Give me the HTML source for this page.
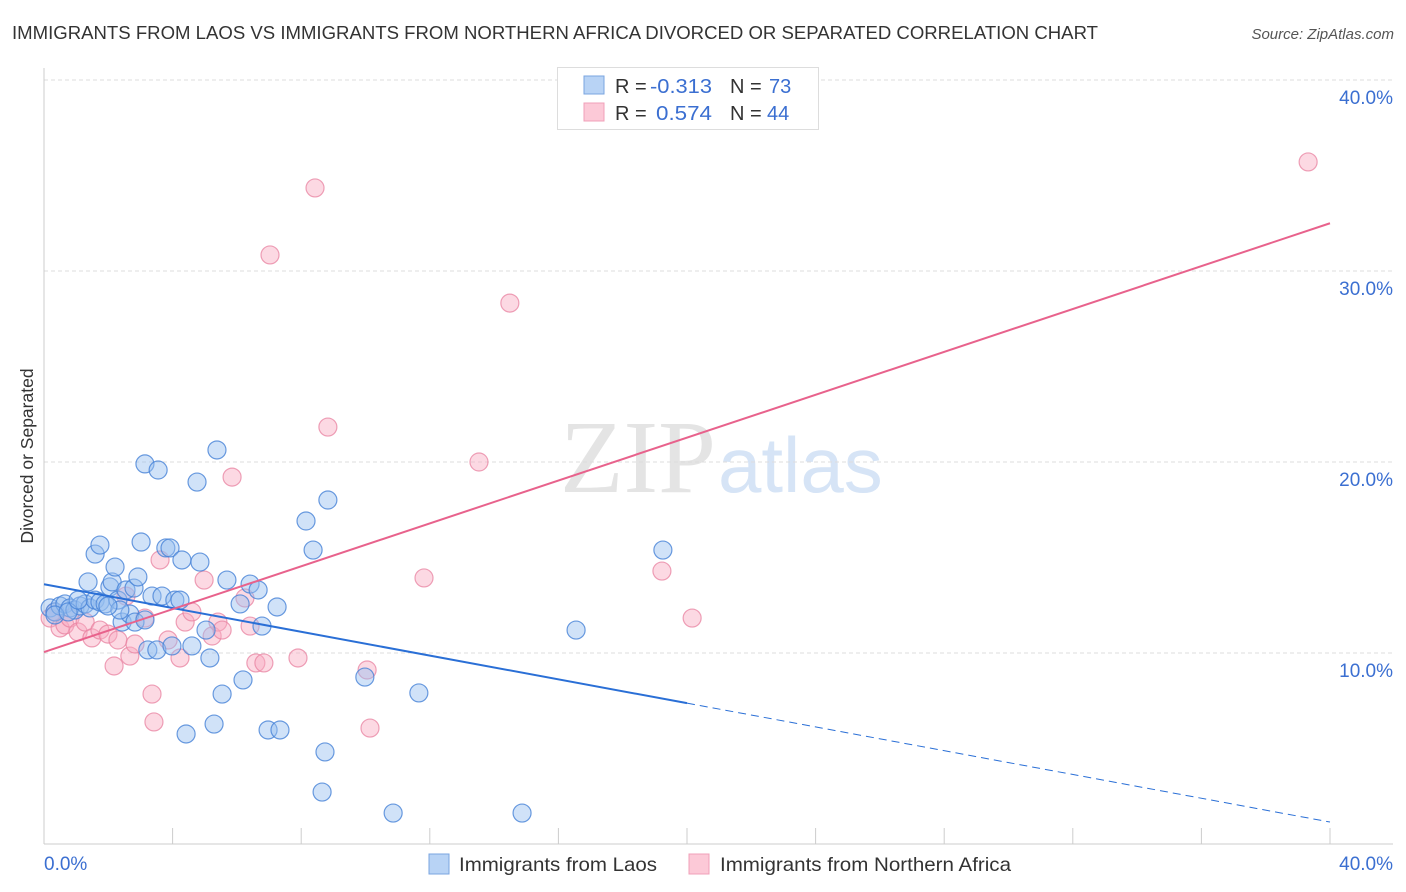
<!DOCTYPE html>
<html><head><meta charset="utf-8"><style>
body{margin:0;background:#fff;font-family:"Liberation Sans",sans-serif;}
#wrap{position:relative;width:1406px;height:892px;overflow:hidden;}
</style></head><body>
<div id="wrap">
<svg id="svg" width="1406" height="892" xmlns="http://www.w3.org/2000/svg">
<text x="12" y="39" font-size="18" fill="#333" textLength="1086" lengthAdjust="spacingAndGlyphs">IMMIGRANTS FROM LAOS VS IMMIGRANTS FROM NORTHERN AFRICA DIVORCED OR SEPARATED CORRELATION CHART</text>
<text x="1394" y="39" font-size="15" fill="#555" font-style="italic" text-anchor="end">Source: ZipAtlas.com</text>
<text x="0" y="0" transform="translate(33,456) rotate(-90)" font-size="17.5" fill="#333" text-anchor="middle">Divorced or Separated</text>
<text x="716" y="492" font-size="104" fill="#e4e4e4" font-family="Liberation Serif,serif" text-anchor="end">ZIP</text>
<text x="718" y="492" font-size="78" fill="#d6e4f6" text-anchor="start">atlas</text>
<g id="grid"></g><g id="axes"></g><g id="pts"></g><g id="lines"></g>
<g>
<rect x="557.5" y="67.5" width="261" height="62" fill="#fff" stroke="#ddd"/>
<rect x="584" y="76" width="20" height="18" fill="#b8d3f5" stroke="#7aa5e0"/>
<rect x="584" y="103" width="20" height="18" fill="#fcc9d7" stroke="#f0a0b8"/>
<text x="615" y="93" font-size="20" fill="#333">R =</text><text x="650" y="93" font-size="20" fill="#3b6fd1" textLength="62" lengthAdjust="spacingAndGlyphs">-0.313</text>
<text x="730" y="93" font-size="20" fill="#333">N =</text><text x="769" y="93" font-size="20" fill="#3b6fd1">73</text>
<text x="615" y="120" font-size="20" fill="#333">R =</text><text x="656" y="120" font-size="20" fill="#3b6fd1" textLength="56" lengthAdjust="spacingAndGlyphs">0.574</text>
<text x="730" y="120" font-size="20" fill="#333">N =</text><text x="767" y="120" font-size="20" fill="#3b6fd1">44</text>
</g>
<g>
<rect x="429" y="854" width="20" height="20" fill="#b8d3f5" stroke="#7aa5e0"/>
<text x="459" y="871" font-size="19.5" fill="#333" textLength="198" lengthAdjust="spacingAndGlyphs">Immigrants from Laos</text>
<rect x="689" y="854" width="20" height="20" fill="#fcc9d7" stroke="#f0a0b8"/>
<text x="720" y="871" font-size="19.5" fill="#333" textLength="291" lengthAdjust="spacingAndGlyphs">Immigrants from Northern Africa</text>
</g>
</svg></div>
<script>
const laosX=[0.19,0.34,0.50,0.65,0.81,0.96,1.12,1.28,1.43,1.59,1.74,1.90,1.37,1.59,1.74,2.05,2.12,2.21,2.30,2.43,2.55,2.67,2.80,2.92,3.02,3.14,3.23,3.36,3.51,3.55,3.67,3.79,3.92,3.98,4.07,4.23,4.29,4.42,4.60,4.76,4.85,5.04,5.16,5.29,5.38,5.54,5.69,6.10,6.19,6.41,6.66,6.78,6.97,7.34,7.25,8.15,8.37,8.65,8.74,8.83,9.98,10.86,11.66,14.87,16.55,19.25,0.34,0.75,1.06,2.36,2.83,3.14,1.99];
const laosY=[12.36,12.15,12.46,12.57,12.36,12.25,12.46,12.57,12.36,12.77,12.67,12.57,13.72,15.18,15.65,13.46,13.72,14.50,12.77,11.62,13.30,12.04,13.40,13.98,15.81,19.90,10.16,12.98,10.16,19.58,12.98,15.50,15.50,10.37,12.77,12.77,14.87,5.76,10.37,18.95,14.76,11.20,9.74,6.28,20.63,7.85,13.82,12.57,8.59,13.61,13.30,11.41,5.97,5.97,12.41,16.91,15.39,2.72,4.82,18.01,8.74,1.62,7.91,1.62,11.20,15.39,11.99,12.15,12.77,12.25,11.62,11.73,12.46];
const nafX=[0.19,0.34,0.50,0.65,0.81,1.06,1.28,1.49,1.74,1.99,2.18,2.30,2.55,2.67,2.83,3.14,3.36,3.42,3.61,3.86,4.23,4.39,4.60,4.98,5.23,5.41,5.54,5.85,6.25,6.41,6.59,6.84,7.03,7.90,8.43,8.83,10.05,10.14,11.82,13.53,14.49,19.22,20.16,39.32];
const nafY=[11.83,12.15,11.31,11.47,11.83,11.10,11.62,10.79,11.20,10.99,9.32,10.68,12.98,9.84,10.47,11.83,7.85,6.39,14.87,10.68,9.74,11.62,12.15,13.82,10.89,11.62,11.20,19.21,12.88,11.41,9.48,9.48,30.84,9.74,34.35,21.83,9.11,6.07,13.93,20.00,28.32,14.29,11.83,35.71];
const laosTrend=[13.6,1.15];
const nafTrend=[10.05,32.5];
const yTicks=[10,20,30,40];
const xTickLabels=["0.0%","40.0%"];
const NS="http://www.w3.org/2000/svg";
const sx=v=>44+v*32.15, sy=v=>844-v*19.1;
function mk(tag,attrs,parent){const e=document.createElementNS(NS,tag);for(const k in attrs)e.setAttribute(k,attrs[k]);parent.appendChild(e);return e;}
const grid=document.getElementById('grid'),axes=document.getElementById('axes'),pts=document.getElementById('pts'),lines=document.getElementById('lines');
yTicks.forEach(t=>{
 const l=mk('line',{x1:44,x2:1393,y1:sy(t),y2:sy(t),stroke:'#ddd','stroke-dasharray':'4,3'},grid);
 
 
 const tx=mk('text',{x:1393,y:sy(t)+24,'font-size':19,fill:'#3b6fd1','text-anchor':'end'},axes);
 tx.textContent=t.toFixed(1)+'%';
 
 
});
mk('line',{x1:44,x2:44,y1:68,y2:844,stroke:'#ccc'},axes);
mk('line',{x1:44,x2:1393,y1:844,y2:844,stroke:'#ccc'},axes);
for(let i=0;i<=10;i++){const t=mk('line',{x1:sx(i*4),x2:sx(i*4),y1:828,y2:844,stroke:'#ccc'},axes);
 
 }
const xl0=mk('text',{x:44,y:870,'font-size':19,fill:'#3b6fd1'},axes);xl0.textContent=xTickLabels[0];


const xl1=mk('text',{x:1393,y:870,'font-size':19,fill:'#3b6fd1','text-anchor':'end'},axes);xl1.textContent=xTickLabels[1];


nafX.forEach((x,i)=>{const c=mk('circle',{cx:sx(x),cy:sy(nafY[i]),r:9,fill:'rgba(248,170,192,0.45)',stroke:'rgba(232,130,160,0.75)','stroke-width':1.2},pts);
 
 });
laosX.forEach((x,i)=>{const c=mk('circle',{cx:sx(x),cy:sy(laosY[i]),r:9,fill:'rgba(150,190,240,0.45)',stroke:'rgba(70,130,215,0.8)','stroke-width':1.2},pts);
 
 });
const lt=v=>laosTrend[0]+(laosTrend[1]-laosTrend[0])*v/40;
const a=mk('line',{x1:sx(0),y1:sy(lt(0)),x2:sx(20),y2:sy(lt(20)),stroke:'#2a6fd6','stroke-width':2},lines);


const b=mk('line',{x1:sx(20),y1:sy(lt(20)),x2:sx(40),y2:sy(lt(40)),stroke:'#2a6fd6','stroke-width':1,'stroke-dasharray':'8,5'},lines);


const c=mk('line',{x1:sx(0),y1:sy(nafTrend[0]),x2:sx(40),y2:sy(nafTrend[1]),stroke:'#e8628c','stroke-width':2},lines);


</script>
</body></html>
